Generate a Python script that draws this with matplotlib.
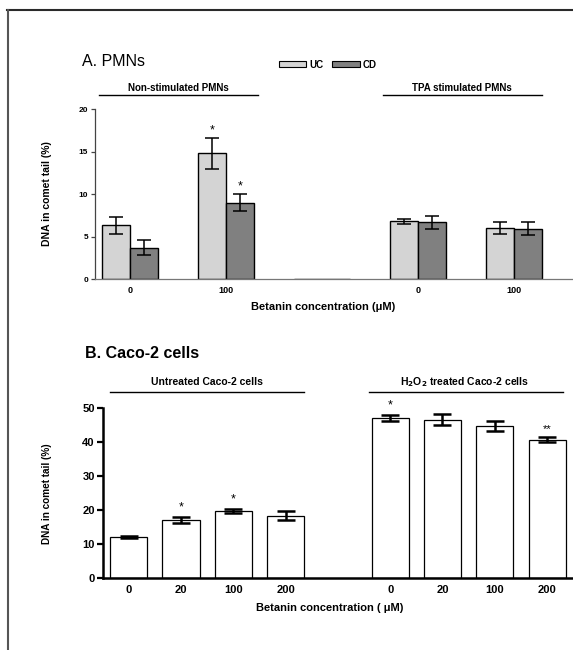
import matplotlib
matplotlib.use("Agg")
import matplotlib.pyplot as plt
import numpy as np
from matplotlib.patches import Patch
from matplotlib.lines import Line2D

plt.rcParams['font.family'] = ['Liberation Sans', 'DejaVu Sans']

# ---- Panel A data ----
a_groups = ["0", "100", "", "0", "100"]
a_uc = [6.3, 14.8, 0.0, 6.8, 6.0]
a_uc_err = [0.95, 1.8, 0.0, 0.3, 0.65]
a_cd = [3.7, 9.0, 0.0, 6.65, 5.9]
a_cd_err = [0.85, 1.0, 0.0, 0.8, 0.75]
a_uc_sig = ["", "*", "", "", ""]
a_cd_sig = ["", "*", "", "", ""]
a_yticks = [0, 5, 10, 15, 20]

# ---- Panel B data ----
b_labels = ["0", "20", "100", "200", "0", "20", "100", "200"]
b_pos = [0, 1, 2, 3, 5, 6, 7, 8]
b_vals = [12.1, 17.2, 19.7, 18.4, 47.2, 46.7, 44.8, 40.8]
b_err = [0.3, 0.8, 0.6, 1.3, 0.95, 1.7, 1.5, 0.7]
b_sig = ["", "*", "*", "", "*", "", "", "**"]
b_yticks = [0, 10, 20, 30, 40, 50]

W, H = 573, 650
fig = plt.figure(figsize=(W / 100, H / 100), dpi=100)

def ax_rect(x0, y_top, x1, y_bot):
    return [x0 / W, 1 - y_bot / H, (x1 - x0) / W, (y_bot - y_top) / H]

def fxy(x, y):
    return x / W, 1 - y / H

# frame lines
fig.add_artist(Line2D([7 / W, 1], [1 - 9.5 / H, 1 - 9.5 / H], color="#2a2a2a", lw=1.5))
fig.add_artist(Line2D([7.5 / W, 7.5 / W], [0, 1 - 9.5 / H], color="#555555", lw=1.5))

# ---------------- Panel A ----------------
axA = fig.add_axes(ax_rect(95, 109, 572, 279))
xa = np.arange(len(a_groups))
bw = 0.29
axA.bar(xa - bw / 2, a_uc, bw, color="#d4d4d4", edgecolor="black", lw=1.0, zorder=2)
axA.bar(xa + bw / 2, a_cd, bw, color="#808080", edgecolor="black", lw=1.0, zorder=2)
m = np.array(a_uc_err) > 0
axA.errorbar((xa - bw / 2)[m], np.array(a_uc)[m], yerr=np.array(a_uc_err)[m], fmt="none",
             ecolor="black", elinewidth=1.1, capsize=5.3, capthick=1.1, zorder=3)
m = np.array(a_cd_err) > 0
axA.errorbar((xa + bw / 2)[m], np.array(a_cd)[m], yerr=np.array(a_cd_err)[m], fmt="none",
             ecolor="black", elinewidth=1.1, capsize=5.3, capthick=1.1, zorder=3)
for i in range(len(a_groups)):
    if a_uc_sig[i]:
        axA.text(xa[i] - bw / 2, a_uc[i] + a_uc_err[i] + 0.2, a_uc_sig[i], ha="center", va="bottom", fontsize=9)
    if a_cd_sig[i]:
        axA.text(xa[i] + bw / 2, a_cd[i] + a_cd_err[i] + 0.2, a_cd_sig[i], ha="center", va="bottom", fontsize=9)
axA.set_xlim(-35 / 96, (572 - 130) / 96)
axA.set_ylim(0, 20)
axA.set_yticks(a_yticks)
axA.set_yticklabels([str(t) for t in a_yticks], fontsize=6, fontweight="bold")
axA.set_xticks(xa)
axA.set_xticklabels(a_groups, fontsize=6.5, fontweight="bold")
axA.tick_params(axis="x", length=0, pad=5)
axA.tick_params(axis="y", length=3, width=0.9, pad=2, color="#444444")
for s in ["top", "right"]:
    axA.spines[s].set_visible(False)
axA.spines["left"].set_color("#444444")
axA.spines["bottom"].set_color("#777777")
axA.spines["left"].set_linewidth(0.9)
axA.spines["bottom"].set_linewidth(0.9)
axA.set_ylabel("DNA in comet tail (%)", fontsize=7.5, fontweight="bold", labelpad=14)
axA.yaxis.set_label_coords((52 - 95) / (572 - 95), 0.5)
fig.text(*fxy(323, 307), "Betanin concentration (\u03bcM)", ha="center", va="center",
         fontsize=8, fontweight="bold")
fig.text(*fxy(82, 62), "A. PMNs", ha="left", va="center", fontsize=11.5)

# group headers A
fig.add_artist(Line2D([99 / W, 258 / W], [1 - 95 / H] * 2, color="black", lw=1))
fig.text(*fxy(178, 88), "Non-stimulated PMNs", ha="center", va="center", fontsize=7, fontweight="bold")
fig.add_artist(Line2D([383 / W, 542 / W], [1 - 95 / H] * 2, color="black", lw=1))
fig.text(*fxy(462, 88), "TPA stimulated PMNs", ha="center", va="center", fontsize=7, fontweight="bold")

# legend A
fig.legend(handles=[Patch(facecolor="#d4d4d4", edgecolor="black", lw=0.8, label="UC"),
                    Patch(facecolor="#808080", edgecolor="black", lw=0.8, label="CD")],
           loc="center left", bbox_to_anchor=fxy(272, 64.5), ncol=2, frameon=False,
           prop={"size": 7, "weight": "bold"}, handlelength=2.8, handleheight=0.6,
           handletextpad=0.35, columnspacing=0.9, borderpad=0.2)

# ---------------- Panel B ----------------
axB = fig.add_axes(ax_rect(103, 408.3, 573, 578.3))
bwB = 0.71
axB.bar(b_pos, b_vals, bwB, color="white", edgecolor="black", lw=0.9, zorder=2)
axB.errorbar(b_pos, b_vals, yerr=b_err, fmt="none", ecolor="black", elinewidth=1.8,
             capsize=6.8, capthick=1.8, zorder=3)
for p, v, e, s in zip(b_pos, b_vals, b_err, b_sig):
    if s:
        axB.text(p, v + e + 1.0, s, ha="center", va="bottom", fontsize=9 if s == "*" else 8)
axB.set_xlim((103 - 128.7) / 52.3, (573 - 128.7) / 52.3)
axB.set_ylim(0, 50)
axB.set_yticks(b_yticks)
axB.set_yticklabels([str(t) for t in b_yticks], fontsize=8, fontweight="bold")
axB.set_xticks(b_pos)
axB.set_xticklabels(b_labels, fontsize=8, fontweight="bold")
axB.tick_params(axis="x", length=0, pad=5)
axB.tick_params(axis="y", length=4, width=1.6, pad=2)
for s in ["top", "right"]:
    axB.spines[s].set_visible(False)
axB.spines["left"].set_linewidth(1.8)
axB.spines["bottom"].set_linewidth(1.8)
axB.set_ylabel("DNA in comet tail (%)", fontsize=7.2, fontweight="bold")
axB.yaxis.set_label_coords((52 - 103) / (573 - 103), 0.5)
fig.text(*fxy(330, 608), "Betanin concentration ( \u03bcM)", ha="center", va="center",
         fontsize=8, fontweight="bold")
fig.text(*fxy(85, 354), "B. Caco-2 cells", ha="left", va="center", fontsize=11.5, fontweight="bold")

# group headers B
fig.add_artist(Line2D([110 / W, 304 / W], [1 - 391.7 / H] * 2, color="black", lw=1))
fig.text(*fxy(207, 382), "Untreated Caco-2 cells", ha="center", va="center", fontsize=7.5, fontweight="bold")
fig.add_artist(Line2D([369 / W, 563 / W], [1 - 391.7 / H] * 2, color="black", lw=1))
fig.text(*fxy(464, 382), "H$_\\mathbf{2}$O$_\\mathbf{2}$ treated Caco-2 cells", ha="center", va="center",
         fontsize=7.5, fontweight="bold")

fig.savefig("out.png", dpi=100)
